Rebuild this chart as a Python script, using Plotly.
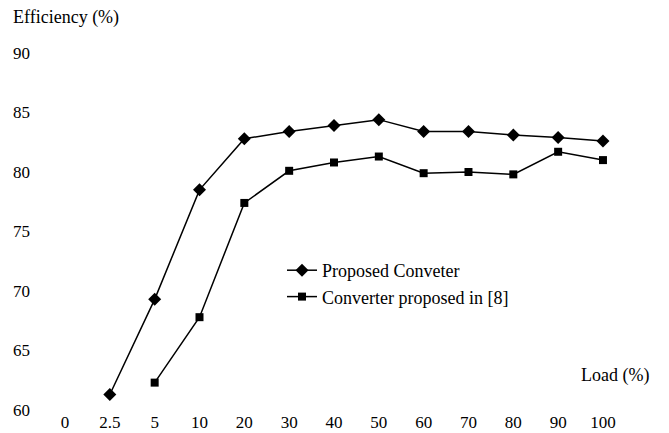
import plotly.graph_objects as go

loads = ["0", "2.5", "5", "10", "20", "30", "40", "50", "60", "70", "80", "90", "100"]
proposed_loads = ["2.5", "5", "10", "20", "30", "40", "50", "60", "70", "80", "90", "100"]
proposed_eff = [61.3, 69.3, 78.5, 82.8, 83.4, 83.9, 84.4, 83.4, 83.4, 83.1, 82.9, 82.6]
ref8_loads = ["5", "10", "20", "30", "40", "50", "60", "70", "80", "90", "100"]
ref8_eff = [62.3, 67.8, 77.4, 80.1, 80.8, 81.3, 79.9, 80.0, 79.8, 81.7, 81.0]
y_ticks = [60, 65, 70, 75, 80, 85, 90]

idx = {c: i for i, c in enumerate(loads)}
FONT = "Liberation Serif"

fig = go.Figure()
fig.add_trace(go.Scatter(
    x=[idx[c] for c in proposed_loads], y=proposed_eff, mode="lines+markers",
    name="Proposed Conveter",
    line=dict(color="black", width=1.5),
    marker=dict(symbol="diamond", size=10, color="black"),
))
fig.add_trace(go.Scatter(
    x=[idx[c] for c in ref8_loads], y=ref8_eff, mode="lines+markers",
    name="Converter proposed in [8]",
    line=dict(color="black", width=1.5),
    marker=dict(symbol="square", size=8, color="black"),
))

fig.update_xaxes(
    range=[-0.558, 12.826],
    tickvals=list(range(len(loads))),
    ticktext=loads,
    automargin=False,
    showgrid=False, zeroline=False, showline=False, ticks="",
    tickfont=dict(family=FONT, size=17, color="black"),
)
fig.update_yaxes(
    range=[60, 90], tickvals=y_ticks,
    automargin=False,
    showgrid=False, zeroline=False, showline=False, ticks="",
    ticklabelstandoff=9,
    tickfont=dict(family=FONT, size=17, color="black"),
)

fig.add_annotation(text="Efficiency (%)", xref="paper", yref="paper",
                   x=-29 / 600, y=(410 - 18) / 357, xanchor="left", yanchor="middle",
                   showarrow=False, font=dict(family=FONT, size=18, color="black"))
fig.add_annotation(text="Load (%)", xref="paper", yref="paper",
                   x=(651 - 40) / 600, y=(410 - 375) / 357, xanchor="right", yanchor="middle",
                   showarrow=False, font=dict(family=FONT, size=18, color="black"))

fig.update_layout(
    width=661, height=425,
    margin=dict(l=32, r=29, t=45, b=23),
    paper_bgcolor="white", plot_bgcolor="white",
    showlegend=True,
    legend=dict(x=(282 - 40) / 600, y=(410 - 252) / 357, xanchor="left", yanchor="top",
                font=dict(family=FONT, size=18, color="black"),
                bgcolor="rgba(0,0,0,0)", tracegroupgap=4),
)

fig.write_html("out.html")
